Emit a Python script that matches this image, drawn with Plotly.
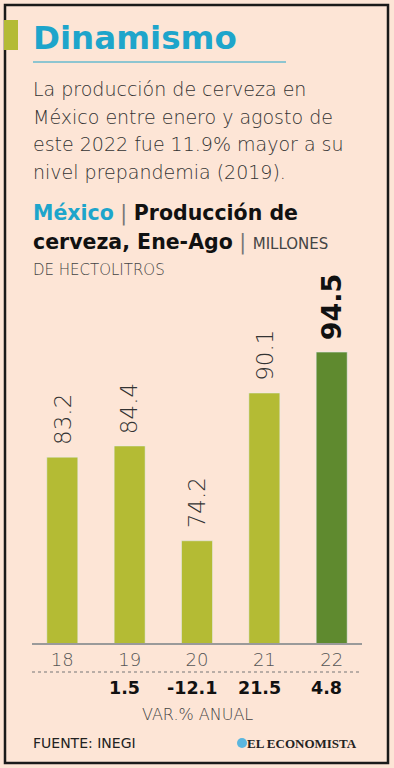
import plotly.graph_objects as go

years = ["18", "19", "20", "21", "22"]
production = [83.2, 84.4, 74.2, 90.1, 94.5]
annual_var = ["", "1.5", "-12.1", "21.5", "4.8"]
label_text = ["83.2", "84.4", "74.2", "90.1", "<b>94.5</b>"]

W, H = 394, 768
BG = "#fde5d6"
TEAL = "#1ea5cb"
LIGHT_GREEN = "#b4bb34"
DARK_GREEN = "#5f8a2f"
TXT = "#2a2a2a"
LIGHT_FONT = "DejaVu Sans"
BOLD_FONT = "DejaVu Sans"

def fx(x):
    return x / W

def fy(y):
    return 1 - y / H

bar_colors = [LIGHT_GREEN] * 4 + [DARK_GREEN]

fig = go.Figure()
fig.add_trace(go.Bar(
    x=years, y=production, marker_color=bar_colors, width=0.46,
    hoverinfo="skip", showlegend=False,
))

base_px, top_px = 643, 301
fig.update_layout(
    width=W, height=H, margin=dict(l=0, r=0, t=0, b=0),
    paper_bgcolor=BG, plot_bgcolor=BG,
    xaxis=dict(domain=[fx(32), fx(362)], range=[-0.45, 4.45], type="category",
               showline=True, linecolor="#9a9a9a", linewidth=1.5, showgrid=False,
               ticks="", tickfont=dict(family=LIGHT_FONT, size=18, color="#555", weight=200),
               fixedrange=True),
    yaxis=dict(domain=[fy(base_px), fy(top_px)], range=[63.2, 100], visible=False,
               fixedrange=True),
    font=dict(family=LIGHT_FONT, color=TXT),
)

# value labels above bars
for i, (v, t) in enumerate(zip(production, label_text)):
    bold = i == len(years) - 1
    fig.add_annotation(
        x=i, y=v, xref="x", yref="y", text=t, textangle=-90, showarrow=False,
        yanchor="bottom", yshift=10,
        font=dict(family=BOLD_FONT if bold else LIGHT_FONT, size=27 if bold else 23,
                  color="#111" if bold else "#333", weight=700 if bold else 200),
    )

# annual variation
for i, t in enumerate(annual_var):
    if t:
        fig.add_annotation(x=i, y=fy(688), xref="x", yref="paper", text=f"<b>{t}</b>",
                           showarrow=False, xshift=-5, yanchor="middle",
                           font=dict(family=BOLD_FONT, size=17.5, color="#111", weight=700))

def text(x, y, s, size, color=TXT, weight=400, xanchor="left", family=LIGHT_FONT):
    fig.add_annotation(x=fx(x), y=fy(y), xref="paper", yref="paper", text=s,
                       showarrow=False, xanchor=xanchor, yanchor="middle", align="left",
                       font=dict(family=family, size=size, color=color, weight=weight))

text(31, 38, "<b>Dinamismo</b>", 32.5, TEAL, 700, family=BOLD_FONT)
sub = ["La producción de cerveza en", "México entre enero y agosto de",
       "este 2022 fue 11.9% mayor a su", "nivel prepandemia (2019)."]
for k, s in enumerate(sub):
    text(31, 89 + 27.7 * k, s, 19, "#333", 200)

text(31, 214, f"<span style='color:{TEAL}'><b>México</b></span> <span style='color:#777'>|</span> <b>Producción de</b>", 20.5, "#111", 400, family=BOLD_FONT)
text(31, 242, "<b>cerveza, Ene-Ago</b> <span style='color:#777'>|</span> <span style='font-size:15px;color:#444'>MILLONES</span>", 20.5, "#111", 400, family=BOLD_FONT)
text(31, 270, "DE HECTOLITROS", 15, "#444", 200)

text(197, 714, "VAR.% ANUAL", 16, "#444", 200, xanchor="center")
text(31, 743, "FUENTE: INEGI", 14, "#222", 400)
text(359, 743, "<b>EL ECONOMISTA</b>", 13, "#222", 700, xanchor="right", family="Liberation Serif")

shapes = [
    dict(type="rect", xref="paper", yref="paper", x0=fx(5), x1=fx(388), y0=fy(763), y1=fy(5),
         line=dict(color="#1a1a1a", width=2.5)),
    dict(type="rect", xref="paper", yref="paper", x0=fx(4), x1=fx(18), y0=fy(50), y1=fy(20),
         line=dict(width=0), fillcolor=LIGHT_GREEN),
    dict(type="line", xref="paper", yref="paper", x0=fx(33), x1=fx(286), y0=fy(62), y1=fy(62),
         line=dict(color=TEAL, width=1)),
    dict(type="line", xref="paper", yref="paper", x0=fx(32), x1=fx(362), y0=fy(672), y1=fy(672),
         line=dict(color="#777", width=1.2, dash="dot")),
    dict(type="circle", xref="paper", yref="paper", x0=fx(237), x1=fx(247), y0=fy(748), y1=fy(738),
         line=dict(width=0), fillcolor="#5bb6de"),
]
fig.update_layout(shapes=shapes)

fig.write_html("out.html", config={"displayModeBar": False},
               post_script="document.body.style.margin='0';")
